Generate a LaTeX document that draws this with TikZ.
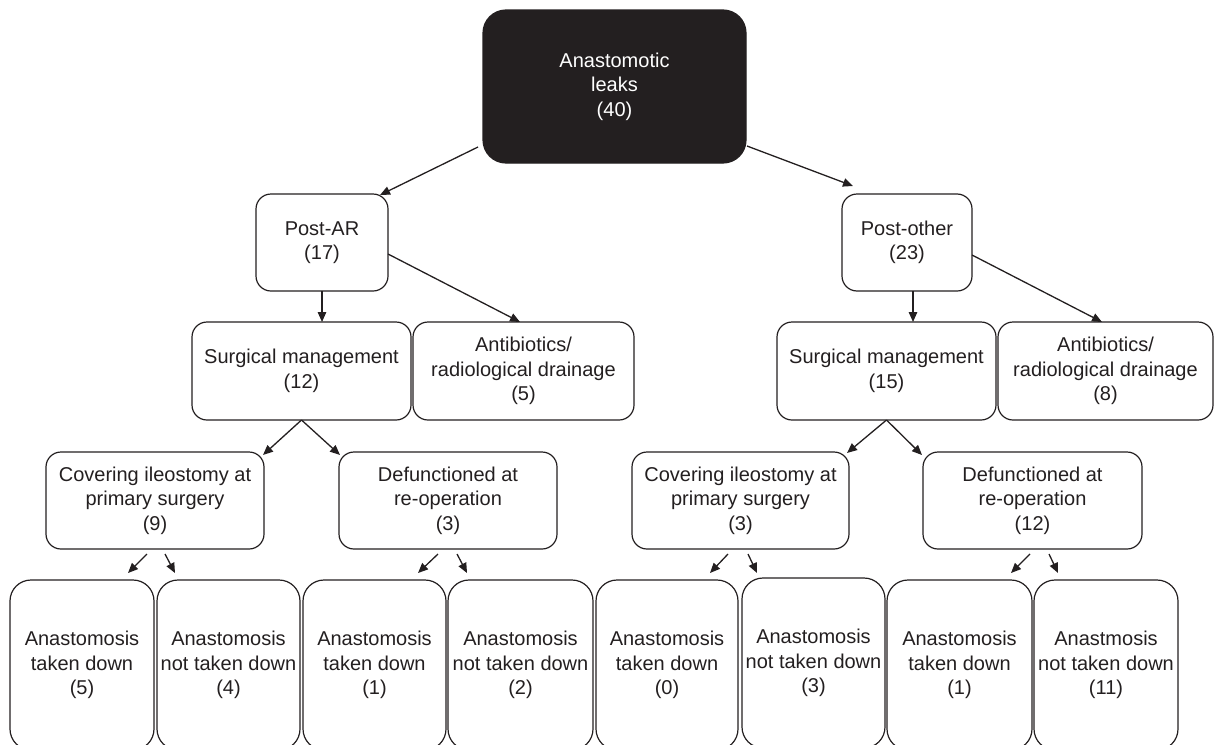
\documentclass[tikz,border=0pt]{standalone}
\usepackage{fontspec}
\setmainfont{Liberation Sans}
\usetikzlibrary{arrows.meta,calc}
\definecolor{ink}{HTML}{231F20}
\begin{document}
\begin{tikzpicture}[x=1pt,y=-1pt,
  box/.style={draw=ink, line width=1.2pt, rounded corners=15pt, align=center,
    inner sep=0pt, outer sep=0pt, text=ink, font=\fontsize{20}{24.5}\selectfont},
  topbox/.style={box, fill=ink, text=white, rounded corners=23pt},
  leafbox/.style={box, rounded corners=21pt, minimum height=170pt},
  midbox/.style={box, minimum height=97pt},
  arr/.style={draw=ink, line width=1.3pt, -{Triangle[length=10pt,width=8.5pt]}},
]
\useasboundingbox (0,0) rectangle (1214,744);
\clip (0,0) rectangle (1214,744);

% level 0
\node[topbox, minimum width=263pt, minimum height=153pt] (top) at (614.5,86.5) {Anastomotic\\leaks\\(40)};

% level 1
\node[midbox, minimum width=132pt] (postar) at (322,242.5) {Post-AR\\(17)};
\node[midbox, minimum width=130pt] (postother) at (907,242.5) {Post-other\\(23)};

% level 2
\node[box, minimum width=219pt, minimum height=98pt] (surg1) at (301.5,371) {Surgical management\\(12)};
\node[box, minimum width=221pt, minimum height=98pt] (anti1) at (523.5,371) {Antibiotics/\\radiological drainage\\(5)};
\node[box, minimum width=219pt, minimum height=98pt] (surg2) at (886.5,371) {Surgical management\\(15)};
\node[box, minimum width=215pt, minimum height=98pt] (anti2) at (1105.5,371) {Antibiotics/\\radiological drainage\\(8)};

% level 3
\node[midbox, minimum width=218pt] (cov1) at (155,500.5) {Covering ileostomy at\\primary surgery\\(9)};
\node[midbox, minimum width=218pt] (def1) at (448,500.5) {Defunctioned at\\re-operation\\(3)};
\node[midbox, minimum width=217pt] (cov2) at (740.5,500.5) {Covering ileostomy at\\primary surgery\\(3)};
\node[midbox, minimum width=219pt] (def2) at (1032.5,500.5) {Defunctioned at\\re-operation\\(12)};

% level 4
\node[leafbox, minimum width=144pt] (b1) at (82,665) {Anastomosis\\taken down\\(5)};
\node[leafbox, minimum width=143pt] (b2) at (228.5,665) {Anastomosis\\not taken down\\(4)};
\node[leafbox, minimum width=143pt] (b3) at (374.5,665) {Anastomosis\\taken down\\(1)};
\node[leafbox, minimum width=145pt] (b4) at (520.5,665) {Anastomosis\\not taken down\\(2)};
\node[leafbox, minimum width=142pt] (b5) at (667,665) {Anastomosis\\taken down\\(0)};
\node[leafbox, minimum width=143pt] (b6) at (813.5,663) {Anastomosis\\not taken down\\(3)};
\node[leafbox, minimum width=145pt] (b7) at (959.5,665) {Anastomosis\\taken down\\(1)};
\node[leafbox, minimum width=144pt] (b8) at (1106,665) {Anastmosis\\not taken down\\(11)};

% connectors level 0 -> 1
\draw[arr] ($(top.south west)+(-5,-16)$) -- ($(postar.north east)+(-8,1)$);
\draw[arr] ($(top.south east)+(1,-17)$) -- ($(postother.north west)+(11,-8)$);

% level 1 -> 2
\draw[arr] (postar.south) -- (postar.south |- surg1.north);
\draw[arr] ($(postar.east)+(0,11.5)$) -- ($(anti1.north)+(-3.5,0)$);
\draw[arr] ($(postother.south)+(6,0)$) -- ($(postother.south |- surg2.north)+(6,0)$);
\draw[arr] ($(postother.east)+(0,12.5)$) -- ($(anti2.north)+(-3.5,0)$);

% level 2 -> 3
\draw[arr] (surg1.south) -- ($(cov1.north east)+(-1,3)$);
\draw[arr] (surg1.south) -- ($(def1.north west)+(1,3)$);
\draw[arr] (surg2.south) -- ($(cov2.north east)+(-2,1)$);
\draw[arr] (surg2.south) -- ($(def2.north west)+(-1,3)$);

% level 3 -> 4 (short floating arrows)
\draw[arr] ($(cov1.south)+(-8,5)$) -- ($(cov1.south)+(-27,24)$);
\draw[arr] ($(cov1.south)+(10,5)$) -- ($(cov1.south)+(20,24)$);
\draw[arr] ($(def1.south)+(-10,5)$) -- ($(def1.south)+(-30,24)$);
\draw[arr] ($(def1.south)+(9,5)$) -- ($(def1.south)+(19,24)$);
\draw[arr] ($(cov2.south)+(-12.5,5)$) -- ($(cov2.south)+(-30.5,24)$);
\draw[arr] ($(cov2.south)+(7.5,5)$) -- ($(cov2.south)+(16.5,24)$);
\draw[arr] ($(def2.south)+(-2.5,5)$) -- ($(def2.south)+(-21.5,24)$);
\draw[arr] ($(def2.south)+(16.5,5)$) -- ($(def2.south)+(25.5,24)$);
\end{tikzpicture}
\end{document}
